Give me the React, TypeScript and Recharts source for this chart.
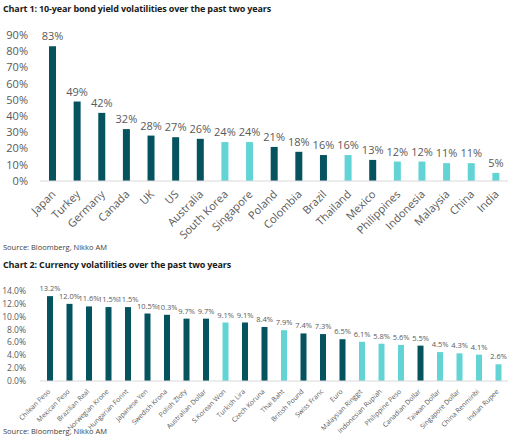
import { BarChart, Bar, XAxis, YAxis, Cell, LabelList } from 'recharts';

// Chart 1: 10-year bond yield volatility (%)
const bondMarkets = [
  'Japan', 'Turkey', 'Germany', 'Canada', 'UK', 'US', 'Australia', 'South Korea',
  'Singapore', 'Poland', 'Colombia', 'Brazil', 'Thailand', 'Mexico', 'Philippines',
  'Indonesia', 'Malaysia', 'China', 'India',
];
const bondVol = [83, 49, 42, 32, 28, 27, 26, 24, 24, 21, 18, 16, 16, 13, 12, 12, 11, 11, 5];
const bondAsia = [
  false, false, false, false, false, false, false, true,
  true, false, false, false, true, false, true,
  true, true, true, true,
];
const bondTicks = [0, 10, 20, 30, 40, 50, 60, 70, 80, 90];

// Chart 2: currency volatility (%)
const currencies = [
  'Chilean Peso', 'Mexican Peso', 'Brazilian Real', 'Norwegian Krone', 'Hungarian Forint',
  'Japanese Yen', 'Swedish Krona', 'Polish Zloty', 'Australian Dollar', 'S.Korean Won',
  'Turkish Lira', 'Czech Koruna', 'Thai Baht', 'British Pound', 'Swiss Franc', 'Euro',
  'Malaysian Ringgit', 'Indonesian Rupiah', 'Philippine Peso', 'Canadian Dollar',
  'Taiwan Dollar', 'Singapore Dollar', 'China Renminbi', 'Indian Rupee',
];
const currencyVol = [
  13.2, 12.0, 11.6, 11.5, 11.5, 10.5, 10.3, 9.7, 9.7, 9.1, 9.1, 8.4, 7.9, 7.4, 7.3, 6.5,
  6.1, 5.8, 5.6, 5.5, 4.5, 4.3, 4.1, 2.6,
];
const currencyAsia = [
  false, false, false, false, false, false, false, false, false, true,
  false, false, true, false, false, false,
  true, true, true, false, true, true, true, true,
];
const currencyTicks = [0, 2, 4, 6, 8, 10, 12, 14];

const DARK = '#05535f';
const LIGHT = '#62d4d6';
const TEXT = '#595959';
const FONT = "'Open Sans', sans-serif";

const bondData = bondMarkets.map((name, i) => ({ name, value: bondVol[i], asia: bondAsia[i] }));
const currencyData = currencies.map((name, i) => ({ name, value: currencyVol[i], asia: currencyAsia[i] }));

const AngledTick = (props: any) => {
  const { x, y, payload, fontSize, dx, dy } = props;
  const tx = x + dx;
  const ty = y + dy;
  return (
    <text
      x={tx}
      y={ty}
      transform={`rotate(-45 ${tx} ${ty})`}
      textAnchor="end"
      fontSize={fontSize}
      fill={TEXT}
      fontFamily={FONT}
    >
      {payload.value}
    </text>
  );
};

const titleStyle: React.CSSProperties = {
  position: 'absolute',
  left: 3,
  fontSize: 9,
  fontWeight: 700,
  letterSpacing: -0.15,
  color: '#1a1a1a',
  whiteSpace: 'nowrap',
  lineHeight: '12px',
};

const sourceStyle: React.CSSProperties = {
  position: 'absolute',
  left: 3,
  fontSize: 7.5,
  color: '#404040',
  whiteSpace: 'nowrap',
  lineHeight: '10px',
};

export default function App() {
  return (
    <div
      style={{
        position: 'absolute',
        top: 0,
        left: 0,
        width: 512,
        height: 444,
        background: '#fff',
        fontFamily: FONT,
        overflow: 'hidden',
      }}
    >
      <div style={{ ...titleStyle, top: 3 }}>
        Chart 1: 10-year bond yield volatilities over the past two years
      </div>
      <div style={{ position: 'absolute', top: 0, left: 0 }}>
        <BarChart
          width={512}
          height={240}
          data={bondData}
          margin={{ top: 35, right: 4, left: 0, bottom: 0 }}
        >
          <XAxis
            dataKey="name"
            interval={0}
            height={59}
            tickLine={false}
            tickSize={0}
            axisLine={{ stroke: '#d9d9d9' }}
            tick={<AngledTick fontSize={11} dx={4} dy={12} />}
          />
          <YAxis
            width={40}
            domain={[0, 90]}
            ticks={bondTicks}
            interval={0}
            axisLine={false}
            tickLine={false}
            tickMargin={6}
            tickFormatter={(v: number) => `${v}%`}
            tick={{ fontSize: 11, fill: TEXT, fontFamily: FONT }}
          />
          <Bar dataKey="value" barSize={7} isAnimationActive={false}>
            {bondData.map((d, i) => (
              <Cell key={`bond-${i}`} fill={d.asia ? LIGHT : DARK} />
            ))}
            <LabelList
              dataKey="value"
              position="top"
              offset={6}
              formatter={(v: number) => `${v}%`}
              style={{ fontSize: 11, fill: TEXT, fontFamily: FONT }}
            />
          </Bar>
        </BarChart>
      </div>
      <div style={{ ...sourceStyle, top: 242 }}>Source: Bloomberg, Nikko AM</div>

      <div style={{ ...titleStyle, top: 259 }}>
        Chart 2: Currency volatilities over the past two years
      </div>
      <div style={{ position: 'absolute', top: 250, left: 0 }}>
        <BarChart
          width={512}
          height={190}
          data={currencyData}
          margin={{ top: 41, right: 4, left: 0, bottom: 0 }}
        >
          <XAxis
            dataKey="name"
            interval={0}
            height={59}
            tickLine={false}
            tickSize={0}
            axisLine={{ stroke: '#d9d9d9' }}
            tick={<AngledTick fontSize={6.8} dx={1} dy={9} />}
          />
          <YAxis
            width={40}
            domain={[0, 14]}
            ticks={currencyTicks}
            interval={0}
            axisLine={false}
            tickLine={false}
            tickMargin={8}
            tickFormatter={(v: number) => `${v.toFixed(1)}%`}
            tick={{ fontSize: 8.5, fill: TEXT, fontFamily: FONT }}
          />
          <Bar dataKey="value" barSize={6} isAnimationActive={false}>
            {currencyData.map((d, i) => (
              <Cell key={`ccy-${i}`} fill={d.asia ? LIGHT : DARK} />
            ))}
            <LabelList
              dataKey="value"
              position="top"
              offset={5}
              formatter={(v: number) => `${v.toFixed(1)}%`}
              style={{ fontSize: 7.5, fill: TEXT, fontFamily: FONT }}
            />
          </Bar>
        </BarChart>
      </div>
      <div style={{ ...sourceStyle, top: 426 }}>Source: Bloomberg, Nikko AM</div>
    </div>
  );
}
